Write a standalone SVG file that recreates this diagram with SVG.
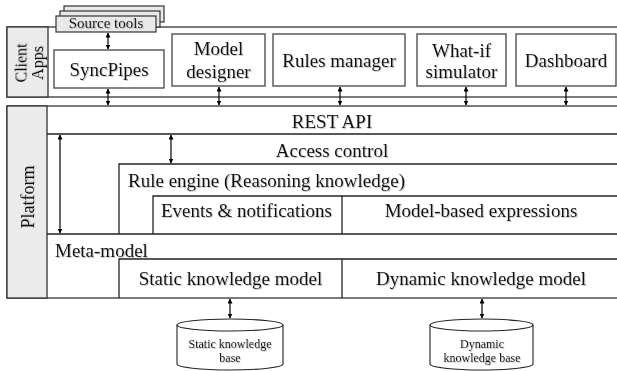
<svg xmlns="http://www.w3.org/2000/svg" width="617" height="371" viewBox="0 0 617 371">
  <style>
    .box { fill: #ffffff; stroke: #444444; stroke-width: 1.3; }
    .band { fill: #ffffff; stroke: #333333; stroke-width: 1.3; }
    .side { fill: #ebebeb; stroke: #333333; stroke-width: 1.3; }
    .card { fill: #e8e8e8; stroke: #333333; stroke-width: 1.2; }
    .rule { fill: none; stroke: #222222; stroke-width: 1.3; }
    .link { fill: none; stroke: #000000; stroke-width: 1.2; marker-start: url(#tip); marker-end: url(#tip); }
    .db { fill: #ffffff; stroke: #222222; stroke-width: 1.1; }
    text { font-family: "Liberation Serif", "Times New Roman", serif; fill: #111111; filter: url(#soft); }
    .t19 { font-size: 19px; }
    .t18 { font-size: 18px; }
    .t16 { font-size: 16px; }
    .t15 { font-size: 15px; }
    .t12 { font-size: 12px; }
    .mid { text-anchor: middle; }
  </style>
  <defs>
    <marker id="tip" viewBox="0 0 10 10" refX="9" refY="5" markerWidth="5" markerHeight="5" markerUnits="userSpaceOnUse" orient="auto-start-reverse">
      <path d="M0,0 L10,5 L0,10 z" fill="#000000"/>
    </marker>
    <filter id="soft" x="-5%" y="-20%" width="115%" height="150%">
      <feDropShadow dx="1" dy="1" stdDeviation="0.6" flood-color="#888888" flood-opacity="0.45"/>
    </filter>
  </defs>

  <!-- Client applications layer -->
  <g id="client-layer">
    <rect class="band" x="7" y="27" width="615" height="70"/>
    <rect class="side" x="7" y="27" width="41" height="70"/>
    <text class="t16 mid" transform="translate(26.5,63) rotate(-90)">Client</text>
    <text class="t16 mid" transform="translate(43,63) rotate(-90)">Apps</text>
  </g>

  <g id="source-tools">
    <rect class="card" x="64" y="6" width="100" height="16"/>
    <rect class="card" x="60" y="11" width="100" height="16"/>
    <rect class="card" x="56" y="16" width="100" height="16"/>
    <text class="t15 mid" x="106" y="28">Source tools</text>
  </g>

  <g id="syncpipes">
    <rect class="box" x="54" y="50" width="110" height="38"/>
    <text class="t19 mid" x="109" y="76">SyncPipes</text>
  </g>

  <g id="model-designer">
    <rect class="box" x="172" y="34" width="93" height="52"/>
    <text class="t19 mid" x="218.5" y="55">Model</text>
    <text class="t19 mid" x="218.5" y="78">designer</text>
  </g>

  <g id="rules-manager">
    <rect class="box" x="273" y="34" width="132" height="52"/>
    <text class="t19 mid" x="339" y="67">Rules manager</text>
  </g>

  <g id="what-if-simulator">
    <rect class="box" x="417" y="34" width="89" height="52"/>
    <text class="t19 mid" x="461.5" y="57">What-if</text>
    <text class="t19 mid" x="461.5" y="78">simulator</text>
  </g>

  <g id="dashboard">
    <rect class="box" x="516" y="34" width="100" height="52"/>
    <text class="t19 mid" x="566" y="67">Dashboard</text>
  </g>

  <!-- Platform layer -->
  <g id="platform">
    <rect class="band" x="7" y="106" width="615" height="192"/>
    <rect class="side" x="7" y="106" width="40" height="192"/>
    <text class="t18 mid" transform="translate(34,197) rotate(-90)">Platform</text>
  </g>

  <g id="rest-api">
    <path class="rule" d="M47,134 H620"/>
    <text class="t19 mid" x="332" y="128">REST API</text>
  </g>

  <g id="access-control">
    <text class="t19 mid" x="332" y="157">Access control</text>
  </g>

  <g id="rule-engine">
    <path class="rule" d="M119,234 V164 H620"/>
    <text class="t19" x="128" y="187">Rule engine (Reasoning knowledge)</text>
  </g>

  <g id="events-notifications">
    <path class="rule" d="M153,234 V196 H620"/>
    <path class="rule" d="M342,196 V234"/>
    <text class="t19" x="161" y="217">Events &amp; notifications</text>
  </g>

  <g id="model-based-expressions">
    <text class="t19 mid" x="481" y="217">Model-based expressions</text>
  </g>

  <g id="meta-model">
    <path class="rule" d="M47,234 H620"/>
    <text class="t19" x="55" y="257">Meta-model</text>
  </g>

  <g id="static-knowledge-model">
    <path class="rule" d="M119,298 V259 H620"/>
    <path class="rule" d="M342,259 V298"/>
    <text class="t19 mid" x="230.5" y="285">Static knowledge model</text>
  </g>

  <g id="dynamic-knowledge-model">
    <text class="t19 mid" x="481" y="285">Dynamic knowledge model</text>
  </g>

  <!-- Knowledge bases -->
  <g id="static-knowledge-base">
    <path class="db" d="M177,325 V364 A53,6 0 0 0 283,364 V325"/>
    <ellipse class="db" cx="230" cy="325" rx="53" ry="6"/>
    <text class="t12 mid" x="230" y="348">Static knowledge</text>
    <text class="t12 mid" x="230" y="362">base</text>
  </g>

  <g id="dynamic-knowledge-base">
    <path class="db" d="M430,325 V364 A51.5,6 0 0 0 533,364 V325"/>
    <ellipse class="db" cx="481.5" cy="325" rx="51.5" ry="6"/>
    <text class="t12 mid" x="482" y="348">Dynamic</text>
    <text class="t12 mid" x="482" y="362">knowledge base</text>
  </g>

  <!-- Connectors -->
  <g id="connectors">
    <path class="link" d="M108,33 V49"/>
    <path class="link" d="M108,89 V105"/>
    <path class="link" d="M219,87 V105"/>
    <path class="link" d="M340,87 V105"/>
    <path class="link" d="M466,87 V105"/>
    <path class="link" d="M566,87 V105"/>
    <path class="link" d="M60,135 V233"/>
    <path class="link" d="M171,135 V163"/>
    <path class="link" d="M230,299 V318"/>
    <path class="link" d="M482,299 V318"/>
  </g>
</svg>
